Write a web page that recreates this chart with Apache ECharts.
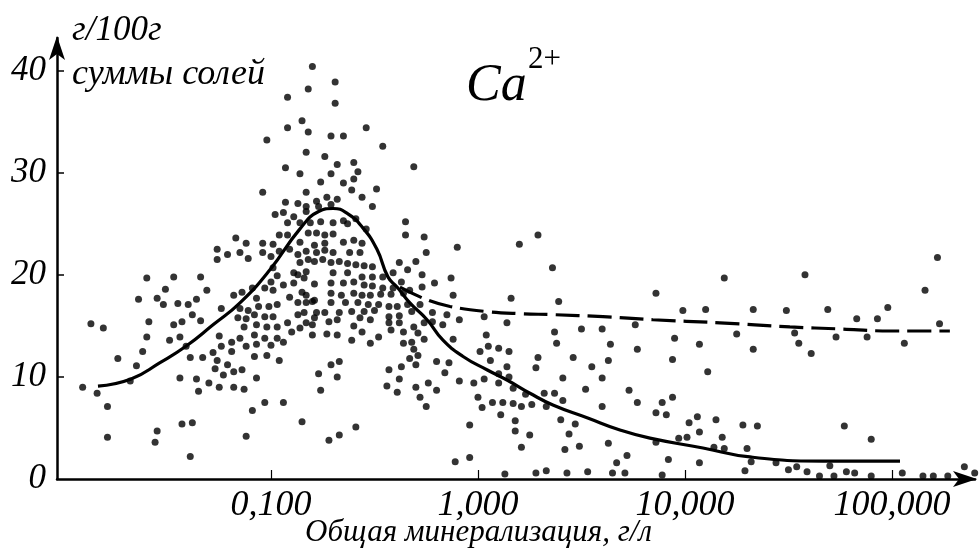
<!DOCTYPE html>
<html>
<head>
<meta charset="utf-8">
<script src="https://cdn.jsdelivr.net/npm/echarts@6/dist/echarts.min.js"></script>
<style>
  html, body { margin: 0; padding: 0; background: #fff; }
  #chart { width: 979px; height: 550px; }
</style>
</head>
<body>
<div id="chart"></div>
<script>
// Ca2+ content (g per 100 g of total salts) versus total mineralization (g/l).
// Mineralization is kept as log10(g/l); the axis itself is logarithmic.

const lgMineralization = [
  -0.82,-0.92,-0.85,-0.92,-0.82,-1.02,-0.83,-0.93,-0.86,-1.04,-0.83,-0.93,-0.87,-0.98,-0.94,-0.89,-0.83,-0.92,-0.86,-0.96,
  -0.92,-0.86,-0.82,-1.17,-1.12,-1.04,-0.99,-1.04,-1.00,-0.96,-0.91,-0.87,-1.26,-1.21,-1.26,-1.15,-1.11,-1.60,-1.47,-1.34,
  -0.99,-0.89,-0.86,-0.82,
  -0.80,-0.69,-0.69,-0.71,-0.65,-0.54,-0.46,-0.74,-0.68,-0.60,-0.58,-0.71,-0.65,-0.60,-0.31,-0.76,-0.61,-0.49,-0.78,-0.73,
  -0.71,-0.68,-0.56,-0.51,-0.83,-0.77,-0.76,-0.81,-0.70,-0.65,-0.59,-0.54,-0.78,-0.74,-0.70,-0.63,-0.65,-0.60,-0.56,-0.74,
  -0.79,-0.83,-0.78,-0.74,-0.70,-0.62,-0.57,-0.79,-0.75,-0.71,-0.67,-0.63,-0.59,-0.55,-0.51,-0.83,-0.70,-0.63,-0.56,-0.51,
  -0.46,-0.35,-0.35,-0.26,-0.25,-0.10,0.20,-0.30,-0.38,-0.34,-0.41,-0.27,-0.13,
  0.29,0.36,1.19,2.22,1.58,
  -1.31,-1.51,-1.64,-1.55,-1.52,-1.45,-1.40,-1.36,-1.38,-1.34,-1.59,-1.47,-1.43,-1.87,-1.81,-1.60,-1.49,-1.44,-1.62,-1.74,
  -1.65,-1.41,-1.68,-1.91,-1.84,-1.79,-1.79,-1.55,-1.56,-1.43,-1.38,-1.39,-1.12,-1.09,-1.03,-0.94,-0.85,-1.44,-1.36,-1.35,
  -1.30,-1.25,-1.18,-1.13,-1.39,-1.33,-1.28,-1.26,-1.27,-1.23,-1.21,-1.18,-1.14,-1.07,-1.25,-1.19,-1.24,-1.19,-1.15,-1.12,
  -1.07,-1.08,-1.02,-1.00,-0.96,-1.08,-1.03,-0.97,-0.94,-1.13,-1.07,-1.02,-0.97,-0.92,-0.86,-0.90,-0.83,-1.16,-1.12,-1.08,
  -1.03,-0.99,-0.87,-0.84,-1.15,-1.11,-1.06,-1.01,-0.97,-1.24,-1.18,-1.14,-1.09,-1.07,-1.03,-0.99,-0.94,-0.89,-0.85,-0.91,
  -0.87,-0.83,-1.00,-0.97,-0.87,
  -0.84,-0.79,-0.71,-0.65,-0.60,-0.55,-0.51,-0.46,-0.41,-0.37,-0.21,-0.27,-0.12,0.16,-0.83,-0.79,-0.71,-0.66,-0.60,-0.56,
  -0.52,-0.47,-0.42,-0.36,-0.33,-0.80,-0.71,-0.64,-0.58,-0.53,-0.48,-0.43,-0.39,-0.34,-0.28,-0.78,-0.74,-0.67,-0.61,-0.55,
  -0.50,-0.43,-0.38,-0.32,-0.22,-0.15,-0.79,-0.72,-0.68,-0.57,-0.52,-0.43,-0.38,-0.80,-0.60,-0.31,-0.26,-0.22,-0.17,-0.09,
  0.03,0.14,-0.80,-0.73,-0.68,-0.56,-0.42,-0.36,-0.29,-0.61,-0.52,-0.48,-0.36,-0.32,-0.26,-0.12,-0.31,-0.29,-0.33,-0.30,
  -0.43,-0.37,-0.20,-0.14,-0.16,-0.38,-0.44,-0.39,-0.30,-0.24,-0.20,-0.28,-0.25,-0.71,-0.67,-0.77,-0.68,-0.76,-0.72,-0.67,
  -0.59,-0.09,-0.02,0.03,0.04,0.05,0.10,0.15,0.01,0.06,0.14,0.10,0.15,0.10,0.17,0.23,0.00,0.07,0.12,0.17,
  0.21,0.02,0.11,0.18,0.18,0.25,0.21,-0.04,-0.04,-0.11,0.13,
  0.86,0.39,0.99,1.10,0.37,0.50,0.60,0.76,0.38,0.64,0.77,0.95,1.07,1.25,0.29,0.28,0.46,0.63,0.55,0.94,
  1.11,0.41,0.60,0.32,0.37,0.41,0.52,0.73,0.26,0.33,0.60,0.77,0.94,0.89,0.86,0.91,1.06,1.15,1.28,1.02,
  1.07,0.40,0.47,0.44,0.42,0.49,0.63,0.86,0.97,1.01,1.18,1.14,1.19,1.30,0.72,0.67,0.92,1.07,0.28,0.33,
  0.43,0.53,0.65,0.71,0.89,1.29,
  2.16,1.33,1.49,1.69,1.98,1.83,1.93,1.53,1.55,1.73,1.88,2.06,2.23,1.33,1.61,1.35,1.77,1.90,1.32,1.44,
  1.50,1.54,1.59,1.65,1.70,1.72,1.78,1.82,1.90,2.05,2.15,2.20,2.27,2.35,2.40
];

const caPercent = [
  38.2,37.4,35.1,34.4,34.0,33.2,32.0,30.5,29.9,28.1,28.1,27.1,27.0,25.9,26.1,25.7,26.2,25.1,25.1,23.9,
  23.9,23.2,24.1,23.6,23.1,23.1,23.0,22.2,21.8,22.3,22.5,22.0,22.5,22.0,21.5,22.2,21.6,19.7,19.8,19.8,
  20.7,20.2,21.2,21.5,
  40.4,38.9,36.8,33.6,33.6,34.4,32.6,31.6,30.8,31.0,30.1,29.9,29.0,29.4,30.6,29.1,28.3,28.4,27.2,27.6,
  26.9,27.4,27.6,26.7,26.7,26.7,25.2,25.1,25.1,25.3,25.5,24.5,24.1,23.9,24.0,25.0,23.2,23.4,23.1,23.1,
  22.9,22.3,22.2,22.4,22.2,22.2,22.2,21.3,21.5,21.2,21.3,21.1,21.0,20.9,20.8,20.3,20.2,20.2,19.8,19.8,
  19.8,25.2,23.9,23.7,22.2,22.7,23.0,21.3,21.2,20.5,20.2,20.0,19.7,
  23.9,20.7,19.7,21.7,20.0,
  18.5,18.6,17.6,17.7,17.1,17.2,17.1,17.6,16.1,15.5,15.4,15.1,15.4,15.2,14.8,13.9,13.6,13.9,12.5,11.8,
  11.1,13.0,9.6,9.0,8.4,7.1,4.1,4.7,3.6,5.4,5.5,2.2,4.2,6.7,7.5,7.5,5.6,9.9,9.8,8.6,
  9.4,9.0,9.0,8.8,11.9,11.9,12.4,11.6,10.8,10.2,11.2,10.5,10.7,9.9,14.0,13.4,13.0,12.5,13.8,13.0,
  13.2,12.0,12.1,13.1,11.6,14.1,13.8,13.8,13.4,14.9,15.1,14.9,14.9,15.3,14.8,14.4,15.3,15.8,15.7,16.1,
  15.9,15.9,16.1,16.3,16.7,16.5,16.9,16.9,17.1,16.7,18.0,18.3,18.7,17.7,18.7,18.5,19.0,19.2,18.3,17.8,
  17.3,17.3,19.3,19.9,20.0,
  19.7,19.1,19.2,19.2,19.3,19.0,18.9,18.7,18.7,19.3,19.2,18.8,18.0,17.7,18.0,17.5,18.2,18.0,18.2,18.0,
  18.0,18.1,18.1,18.2,18.5,17.4,17.3,17.3,17.3,17.1,17.1,16.9,16.9,17.1,17.1,16.3,16.3,16.3,16.4,16.4,
  16.5,15.9,16.0,16.4,16.3,16.1,15.8,15.4,15.6,15.8,15.6,15.3,15.3,15.1,15.0,14.9,15.3,15.4,15.1,15.6,
  15.9,15.3,14.1,14.2,14.1,14.4,14.6,14.4,14.3,13.6,13.3,13.9,13.3,13.4,13.7,13.7,12.7,12.1,11.8,11.2,
  10.7,11.0,11.5,11.4,10.4,9.8,9.1,8.5,9.0,9.4,8.7,8.0,7.1,11.2,11.5,10.3,10.0,8.7,3.8,4.3,
  5.1,9.6,9.4,9.8,14.1,13.0,12.8,12.5,12.5,11.6,11.0,10.3,10.0,9.4,8.9,8.3,8.0,7.5,7.5,7.4,
  7.1,7.0,6.3,5.7,4.7,4.3,3.1,5.3,2.1,1.7,0.5,
  18.2,17.4,16.5,16.6,14.4,14.7,14.7,15.1,13.3,13.2,12.7,13.8,13.2,14.2,11.9,10.9,11.9,11.6,11.0,11.7,
  10.5,9.9,9.9,8.4,8.4,7.7,8.8,8.7,7.3,7.1,7.1,7.5,8.0,7.5,6.5,6.3,6.1,5.8,5.3,5.5,
  4.6,5.8,5.4,4.4,2.9,3.2,3.5,3.6,4.0,4.1,4.1,3.1,3.0,3.0,2.3,1.6,1.9,1.6,0.6,0.8,
  0.6,0.7,0.6,0.6,0.4,0.8,
  18.5,16.6,16.5,16.6,16.8,15.7,15.7,14.3,13.3,13.9,13.9,13.3,15.2,12.7,12.3,5.2,5.2,3.9,1.7,1.6,
  0.9,1.2,0.7,0.3,1.3,0.3,0.7,0.6,0.3,0.6,0.3,0.3,0.3,1.2,0.6
];

// Solid trend curve (fresh waters peak, then decline)
const lgSolidCurve = [-1.836,-1.676,-1.536,-1.411,-1.28,-1.15,-1.005,-0.86,-0.77,-0.70,-0.63,-0.556,-0.488,-0.435,-0.391,-0.329,-0.246,-0.169,-0.072,0.043,0.14,0.251,0.362,0.527,0.686,0.831,1.087,1.314,1.667,2.039];
const caSolidCurve = [9.1,9.8,11.4,13.0,15.1,17.25,20.5,24.5,26.2,26.5,26.0,24.6,22.5,19.8,18.8,17.25,15.6,13.6,12.0,10.7,9.7,8.4,7.25,6.0,4.8,4.0,3.04,2.16,1.76,1.76];

// Dashed trend curve (upper branch)
const lgDashedCurve = [-0.377,-0.246,-0.135,0.043,0.203,0.362,0.604,0.845,1.169,1.507,1.749,1.99,2.28];
const caDashedCurve = [18.8,17.55,16.9,16.4,16.2,16.1,15.9,15.6,15.3,14.9,14.7,14.5,14.5];

const xTickValues = [0.1, 1, 10, 100];
const xTickLabels = ['0,100', '1,000', '10,000', '100,000'];
const yTickValues = [0, 10, 20, 30, 40];

const SERIF = "'Liberation Serif', 'Times New Roman', 'DejaVu Serif', serif";

const toPairs = (lg, vals) => lg.map((v, i) => [Math.pow(10, v), vals[i]]);

const chart = echarts.init(document.getElementById('chart'), null, { renderer: 'canvas' });

chart.setOption({
  backgroundColor: '#ffffff',
  animation: false,
  grid: { left: 57, right: 4, top: 38, bottom: 71, containLabel: false },
  xAxis: {
    type: 'log',
    logBase: 10,
    min: 0.00925,
    max: 252,
    axisLine: {
      show: true,
      lineStyle: { color: '#000', width: 2.5 },
      symbol: ['none', 'arrow'],
      symbolSize: [12, 24],
      symbolOffset: [0, 2]
    },
    axisTick: {
      show: true, inside: true, length: 9,
      lineStyle: { color: '#000', width: 1.2 },
      customValues: xTickValues
    },
    axisLabel: {
      show: true,
      customValues: xTickValues,
      margin: 9,
      color: '#000',
      fontFamily: SERIF,
      fontStyle: 'italic',
      fontSize: 36,
      formatter: (v) => xTickLabels[Math.round(Math.log10(v)) + 1]
    },
    splitLine: { show: false },
    minorTick: { show: false }
  },
  yAxis: {
    type: 'value',
    min: 0,
    max: 43.2,
    axisLine: {
      show: true,
      lineStyle: { color: '#000', width: 2.5 },
      symbol: ['none', 'arrow'],
      symbolSize: [12, 24],
      symbolOffset: [0, 2]
    },
    axisTick: {
      show: true, inside: true, length: 7,
      lineStyle: { color: '#000', width: 1.5 },
      customValues: [10, 20, 30, 40]
    },
    axisLabel: {
      show: true,
      customValues: yTickValues,
      margin: 11,
      color: '#000',
      fontFamily: SERIF,
      fontStyle: 'italic',
      fontSize: 35,
      padding: [10, 0, 0, 0]
    },
    splitLine: { show: false }
  },
  graphic: [
    {
      type: 'text', left: 72, top: 13,
      style: { text: 'г/100г', font: "italic 35px " + SERIF, fill: '#000' }
    },
    {
      type: 'text', left: 72, top: 57,
      style: { text: 'суммы солей', font: "italic 36px " + SERIF, fill: '#000' }
    },
    {
      type: 'text', left: 466, top: 60,
      style: { text: 'Ca', font: "italic 52px " + SERIF, fill: '#000' }
    },
    {
      type: 'text', left: 528, top: 44,
      style: { text: '2+', font: "31px " + SERIF, fill: '#000' }
    },
    {
      type: 'text', left: 305, top: 517,
      style: { text: 'Общая минерализация, г/л', font: "italic 31px " + SERIF, fill: '#000' }
    }
  ],
  series: [
    {
      name: 'samples',
      type: 'scatter',
      data: toPairs(lgMineralization, caPercent),
      symbol: 'circle',
      symbolSize: 7,
      clip: false,
      itemStyle: { color: '#000' },
      emphasis: { disabled: true }
    },
    {
      name: 'trend',
      type: 'line',
      data: toPairs(lgSolidCurve, caSolidCurve),
      smooth: 0.5,
      showSymbol: false,
      lineStyle: { color: '#000', width: 3.2 },
      emphasis: { disabled: true }
    },
    {
      name: 'upper trend',
      type: 'line',
      data: toPairs(lgDashedCurve, caDashedCurve),
      smooth: 0.4,
      showSymbol: false,
      lineStyle: { color: '#000', width: 3.2, type: [24, 8] },
      emphasis: { disabled: true }
    }
  ]
});
</script>
</body>
</html>
